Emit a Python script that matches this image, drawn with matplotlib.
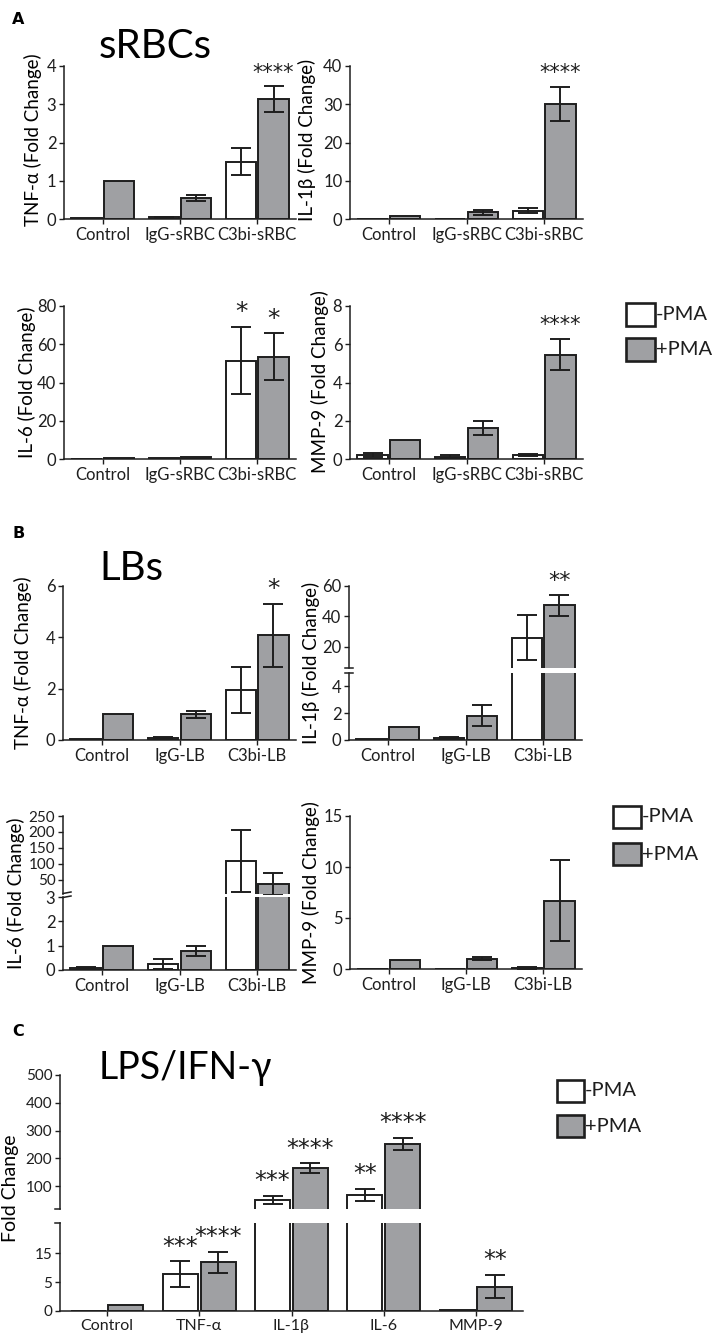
import matplotlib
matplotlib.use('Agg')
import matplotlib.pyplot as plt
from matplotlib.patches import Rectangle
from matplotlib.lines import Line2D
import numpy as np

plt.rcParams['font.family'] = ['Lato', 'DejaVu Sans']

# ------------------------------------------------------------------ data
series = ['-PMA', '+PMA']
groups_a = ['Control', 'IgG-sRBC', 'C3bi-sRBC']
groups_b = ['Control', 'IgG-LB', 'C3bi-LB']
groups_c = ['Control', 'TNF-α', 'IL-1β', 'IL-6', 'MMP-9']

# Panel A (sRBCs)
a_tnf_minus = [0.02, 0.04, 1.50]
a_tnf_minus_err = [0, 0.01, 0.35]
a_tnf_plus = [1.00, 0.54, 3.13]
a_tnf_plus_err = [0, 0.08, 0.34]
a_tnf_plus_stars = ['', '', '****']

a_il1b_minus = [0.05, 0.10, 2.2]
a_il1b_minus_err = [0, 0, 0.6]
a_il1b_plus = [0.8, 1.7, 30.0]
a_il1b_plus_err = [0, 0.7, 4.5]
a_il1b_plus_stars = ['', '', '****']

a_il6_minus = [0.1, 0.5, 51.5]
a_il6_minus_err = [0, 0, 17.5]
a_il6_plus = [0.6, 1.0, 53.5]
a_il6_plus_err = [0, 0, 12.3]
a_il6_minus_stars = ['', '', '*']
a_il6_plus_stars = ['', '', '*']

a_mmp9_minus = [0.2, 0.12, 0.2]
a_mmp9_minus_err = [0.1, 0.08, 0.05]
a_mmp9_plus = [1.0, 1.6, 5.45]
a_mmp9_plus_err = [0, 0.37, 0.82]
a_mmp9_plus_stars = ['', '', '****']

# Panel B (LBs)
b_tnf_minus = [0.03, 0.07, 1.95]
b_tnf_minus_err = [0, 0.03, 0.9]
b_tnf_plus = [1.0, 1.0, 4.08]
b_tnf_plus_err = [0, 0.13, 1.23]
b_tnf_plus_stars = ['', '', '*']

b_il1b_minus = [0.05, 0.15, 26.0]
b_il1b_minus_err = [0, 0.05, 14.8]
b_il1b_plus = [0.95, 1.8, 47.5]
b_il1b_plus_err = [0, 0.78, 6.9]
b_il1b_plus_stars = ['', '', '**']

b_il6_minus = [0.08, 0.25, 110.0]
b_il6_minus_err = [0.05, 0.2, 97.0]
b_il6_plus = [0.97, 0.77, 38.0]
b_il6_plus_err = [0, 0.21, 34.0]

b_mmp9_minus = [0.02, 0.02, 0.12]
b_mmp9_minus_err = [0, 0, 0.1]
b_mmp9_plus = [0.9, 1.0, 6.7]
b_mmp9_plus_err = [0, 0.15, 3.95]

# Panel C (LPS/IFN-gamma)
c_minus = [0, 6.4, 50, 68, 0.15]
c_minus_err = [0, 2.2, 15, 21, 0]
c_plus = [1.0, 8.4, 165, 252, 4.2]
c_plus_err = [0, 1.8, 17, 21, 2.0]
c_minus_stars = ['', '***', '***', '**', '']
c_plus_stars = ['', '****', '****', '****', '**']

# tick values / labels
a_tnf_yticks = [0, 1, 2, 3, 4]
a_il1b_yticks = [0, 10, 20, 30, 40]
a_il6_yticks = [0, 20, 40, 60, 80]
a_mmp9_yticks = [0, 2, 4, 6, 8]
b_tnf_yticks = [0, 2, 4, 6]
b_il1b_yticks_up = [20, 40, 60]
b_il1b_yticks_lo = [0, 2, 4]
b_il6_yticks_up = [50, 100, 150, 200, 250]
b_il6_yticks_lo = [0, 1, 2, 3]
b_mmp9_yticks = [0, 5, 10, 15]
c_yticks_up = [100, 200, 300, 400, 500]
c_yticks_lo = [0, 5, 10]
c_yticklabels_lo = ['0', '5', '15']

# ------------------------------------------------------------------ style
W, H = 714, 1339
EDGE = '#1e1e1e'
GRAY = '#9fa0a3'
fig = plt.figure(figsize=(W / 100, H / 100), dpi=100)


def axes_px(x0, y0, x1, y1):
    return fig.add_axes([x0 / W, 1 - y1 / H, (x1 - x0) / W, (y1 - y0) / H])


def style(ax, bottom=True, labelsize=12):
    for s in ['top', 'right']:
        ax.spines[s].set_visible(False)
    for s in ['left', 'bottom']:
        ax.spines[s].set_linewidth(1.1)
        ax.spines[s].set_color(EDGE)
    ax.tick_params(direction='out', length=3.5, width=1.0, colors=EDGE,
                   labelsize=labelsize, pad=2)
    if not bottom:
        ax.spines['bottom'].set_visible(False)
        ax.tick_params(axis='x', bottom=False, labelbottom=False)


def draw(ax, groups, minus, minus_err, plus, plus_err, width, off):
    x = np.arange(len(groups))
    ax.bar(x - off, minus, width, color='white', edgecolor=EDGE,
           linewidth=1.4, zorder=2)
    ax.bar(x + off, plus, width, color=GRAY, edgecolor=EDGE,
           linewidth=1.4, zorder=2)
    for xs, vals, errs in [(x - off, minus, minus_err), (x + off, plus, plus_err)]:
        vals = np.asarray(vals, float)
        errs = np.asarray(errs, float)
        m = errs > 0
        if m.any():
            ax.errorbar(xs[m], vals[m], yerr=errs[m], fmt='none', ecolor=EDGE,
                        elinewidth=1.4, capsize=7, capthick=1.4, zorder=3)
    ax.set_xlim(-0.5, len(groups) - 0.5)


def stars(ax, xs, vals, errs, labels, size=15, ax_alt=None, split=None):
    for xv, v, e, lab in zip(xs, vals, errs, labels):
        if not lab:
            continue
        target = ax
        if ax_alt is not None and v + e > split:
            target = ax_alt
        target.annotate(lab, xy=(xv, v + e), xytext=(0, 5.5),
                        textcoords='offset points', ha='center', va='baseline',
                        fontsize=size, family='DejaVu Sans', color=EDGE,
                        annotation_clip=False, zorder=5)


def xcat(ax, groups, size=12):
    ax.set_xticks(np.arange(len(groups)))
    ax.set_xticklabels(groups, fontsize=size)


def ftext(x, y, s, **kw):
    fig.text(x / W, 1 - y / H, s, **kw)


def fline(x0, y0, x1, y1, lw=1.1):
    fig.add_artist(Line2D([x0 / W, x1 / W], [1 - y0 / H, 1 - y1 / H],
                          transform=fig.transFigure, color=EDGE, lw=lw))


def legend(x, y_top, box_w, box_h, gap, size=14.5):
    for i, (lab, col) in enumerate(zip(series, ['white', GRAY])):
        yt = y_top + i * (box_h + gap)
        fig.add_artist(Rectangle((x / W, 1 - (yt + box_h) / H), box_w / W, box_h / H,
                                 transform=fig.transFigure, facecolor=col,
                                 edgecolor=EDGE, linewidth=1.9))
        ftext(x + box_w + 1, yt + box_h / 2, lab, fontsize=size, va='center',
              ha='left', color=EDGE)


WID, OFF = 0.39, 0.21
YL = 13.5
xa = np.arange(3)

# ------------------------------------------------------------------ Panel A
ftext(12, 19, 'A', fontsize=11.5, fontweight='bold', va='center', family='DejaVu Sans')
ftext(99, 47, 'sRBCs', fontsize=29, va='center', ha='left')

ax = axes_px(64, 66, 296, 219)
draw(ax, groups_a, a_tnf_minus, a_tnf_minus_err, a_tnf_plus, a_tnf_plus_err, WID, OFF)
ax.set_ylim(0, 4); ax.set_yticks(a_tnf_yticks); style(ax); xcat(ax, groups_a)
stars(ax, xa + OFF, a_tnf_plus, a_tnf_plus_err, a_tnf_plus_stars)
ftext(33, 140, 'TNF-α (Fold Change)', rotation=90, fontsize=YL, va='center', ha='center')

ax = axes_px(350, 66, 583, 219)
draw(ax, groups_a, a_il1b_minus, a_il1b_minus_err, a_il1b_plus, a_il1b_plus_err, WID, OFF)
ax.set_ylim(0, 40); ax.set_yticks(a_il1b_yticks); style(ax); xcat(ax, groups_a)
stars(ax, xa + OFF, a_il1b_plus, a_il1b_plus_err, a_il1b_plus_stars)
ftext(307, 140, 'IL-1β (Fold Change)', rotation=90, fontsize=YL, va='center', ha='center')

ax = axes_px(64, 306, 296, 459)
draw(ax, groups_a, a_il6_minus, a_il6_minus_err, a_il6_plus, a_il6_plus_err, WID, OFF)
ax.set_ylim(0, 80); ax.set_yticks(a_il6_yticks); style(ax); xcat(ax, groups_a)
stars(ax, xa - OFF, a_il6_minus, a_il6_minus_err, a_il6_minus_stars, size=18)
stars(ax, xa + OFF, a_il6_plus, a_il6_plus_err, a_il6_plus_stars, size=18)
ftext(27, 382, 'IL-6 (Fold Change)', rotation=90, fontsize=YL, va='center', ha='center')

ax = axes_px(350, 306, 583, 459)
draw(ax, groups_a, a_mmp9_minus, a_mmp9_minus_err, a_mmp9_plus, a_mmp9_plus_err, WID, OFF)
ax.set_ylim(0, 8); ax.set_yticks(a_mmp9_yticks); style(ax); xcat(ax, groups_a)
stars(ax, xa + OFF, a_mmp9_plus, a_mmp9_plus_err, a_mmp9_plus_stars)
ftext(320, 382, 'MMP-9 (Fold Change)', rotation=90, fontsize=YL, va='center', ha='center')

legend(626, 303, 29, 23, 12)

# ------------------------------------------------------------------ Panel B
ftext(12, 533, 'B', fontsize=11.5, fontweight='bold', va='center', family='DejaVu Sans')
ftext(99, 568, 'LBs', fontsize=29, va='center', ha='left')

ax = axes_px(63, 586, 296, 740)
draw(ax, groups_b, b_tnf_minus, b_tnf_minus_err, b_tnf_plus, b_tnf_plus_err, WID, OFF)
ax.set_ylim(0, 6); ax.set_yticks(b_tnf_yticks); style(ax); xcat(ax, groups_b)
stars(ax, xa + OFF, b_tnf_plus, b_tnf_plus_err, b_tnf_plus_stars, size=18)
ftext(23, 663, 'TNF-α (Fold Change)', rotation=90, fontsize=YL, va='center', ha='center')

# IL-1b broken axis
axu = axes_px(349, 586, 582, 668)
axl = axes_px(349, 673, 582, 740)
for a_ in (axu, axl):
    draw(a_, groups_b, b_il1b_minus, b_il1b_minus_err, b_il1b_plus, b_il1b_plus_err, WID, OFF)
axu.set_ylim(6.2, 60); axu.set_yticks(b_il1b_yticks_up); style(axu, bottom=False)
axl.set_ylim(0, 5); axl.set_yticks(b_il1b_yticks_lo); style(axl); xcat(axl, groups_b)
stars(axl, xa + OFF, b_il1b_plus, b_il1b_plus_err, b_il1b_plus_stars, size=16,
      ax_alt=axu, split=5)
fline(345, 668, 353, 668); fline(345, 673, 353, 673)
ftext(311, 663, 'IL-1β (Fold Change)', rotation=90, fontsize=YL, va='center', ha='center')

# IL-6 broken axis
axu = axes_px(63, 816, 296, 894)
axl = axes_px(63, 897, 296, 970)
for a_ in (axu, axl):
    draw(a_, groups_b, b_il6_minus, b_il6_minus_err, b_il6_plus, b_il6_plus_err, WID, OFF)
axu.set_ylim(6, 250); axu.set_yticks(b_il6_yticks_up); style(axu, bottom=False, labelsize=11)
axl.set_ylim(0, 3); axl.set_yticks(b_il6_yticks_lo); style(axl); xcat(axl, groups_b)
fline(63, 893.5, 71, 892); fline(63, 897.5, 71, 896)
ftext(16, 893, 'IL-6 (Fold Change)', rotation=90, fontsize=YL, va='center', ha='center')

ax = axes_px(350, 816, 582, 969)
draw(ax, groups_b, b_mmp9_minus, b_mmp9_minus_err, b_mmp9_plus, b_mmp9_plus_err, WID, OFF)
ax.set_ylim(0, 15); ax.set_yticks(b_mmp9_yticks); style(ax); xcat(ax, groups_b)
ftext(311, 893, 'MMP-9 (Fold Change)', rotation=90, fontsize=YL, va='center', ha='center')

legend(613, 806, 28, 22, 15)

# ------------------------------------------------------------------ Panel C
ftext(12, 1032, 'C', fontsize=11.5, fontweight='bold', va='center', family='DejaVu Sans')
ftext(99, 1068, 'LPS/IFN-γ', fontsize=27, va='center', ha='left')

xc = np.arange(len(groups_c))
CW, COFF = 0.38, 0.205
axu = axes_px(60, 1075, 523, 1209)
axl = axes_px(60, 1223, 523, 1311)
for a_ in (axu, axl):
    draw(a_, groups_c, c_minus, c_minus_err, c_plus, c_plus_err, CW, COFF)
    a_.set_xlim(-0.51, len(groups_c) - 0.49)
axu.set_ylim(17.3, 500); axu.set_yticks(c_yticks_up); style(axu, bottom=False, labelsize=11)
axl.set_ylim(0, 15.2); axl.set_yticks(c_yticks_lo); axl.set_yticklabels(c_yticklabels_lo)
style(axl, labelsize=11); xcat(axl, groups_c, size=11.5)
stars(axl, xc - COFF, c_minus, c_minus_err, c_minus_stars, size=17, ax_alt=axu, split=15.2)
stars(axl, xc + COFF, c_plus, c_plus_err, c_plus_stars, size=17, ax_alt=axu, split=15.2)
fline(55, 1209, 60, 1209); fline(55, 1223, 60, 1223)
ftext(11, 1188, 'Fold Change', rotation=90, fontsize=14, va='center', ha='center')

legend(557, 1080, 27, 22, 13)

fig.savefig('out.png', dpi=100, facecolor='white')
